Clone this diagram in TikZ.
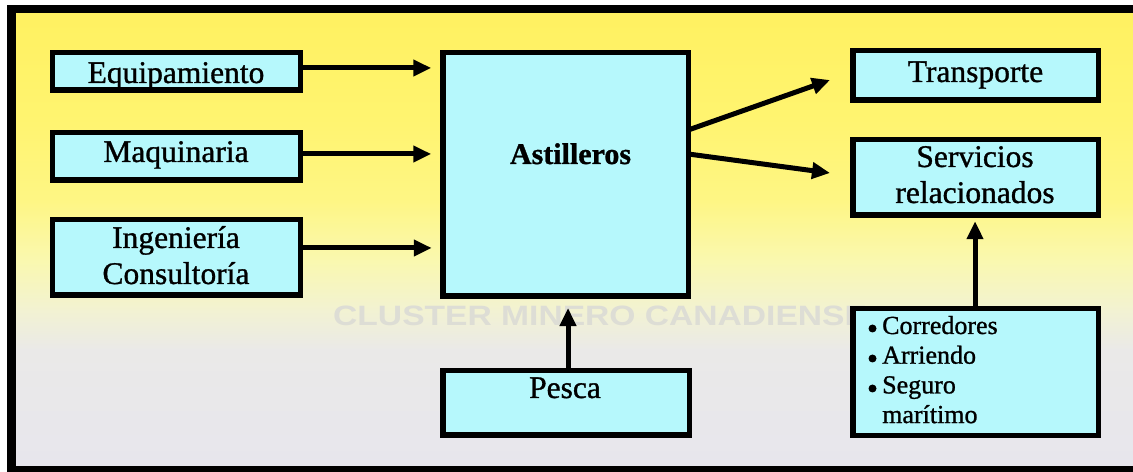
\documentclass[tikz,border=0pt]{standalone}
\usepackage{fontspec}
\setmainfont{Liberation Serif}[FakeBold=1]
\setsansfont{Liberation Sans}
\usetikzlibrary{arrows.meta}
\definecolor{boxfill}{RGB}{182,248,252}
\definecolor{bgA}{RGB}{231,230,237}
\definecolor{bgB}{RGB}{234,233,232}
\definecolor{bgC}{RGB}{242,242,210}
\definecolor{bgD}{RGB}{250,248,175}
\definecolor{bgE}{RGB}{254,246,132}
\definecolor{bgF}{RGB}{255,244,112}
\definecolor{bgG}{RGB}{255,241,96}
\definecolor{ghost}{RGB}{221,221,213}
\begin{document}
\begin{tikzpicture}[x=1bp,y=-1bp,
  box/.style={draw=black, line width=5.5bp, fill=boxfill, outer sep=0pt, inner sep=0pt},
  txt/.style={anchor=base, inner sep=0pt, font=\fontsize{31.5bp}{36bp}\selectfont},
  arr/.style={line width=5bp, -{Triangle[length=18bp,width=16bp]}},
  dot/.style={circle, fill=black, inner sep=0pt, minimum size=8bp},
  band/.style={draw=none}]
\useasboundingbox (0,0) rectangle (1133,472);
\fill[white] (-20,-20) rectangle (1160,500);
% background bands (top to bottom)
\shade[band, top color=bgG, bottom color=bgF] (11,8.5) rectangle (1160,120.5);
\shade[band, top color=bgF, bottom color=bgE] (11,120) rectangle (1160,200.5);
\shade[band, top color=bgE, bottom color=bgD] (11,200) rectangle (1160,260.5);
\shade[band, top color=bgD, bottom color=bgC] (11,260) rectangle (1160,310.5);
\shade[band, top color=bgC, bottom color=bgB] (11,310) rectangle (1160,350.5);
\shade[band, top color=bgB, bottom color=bgA] (11,350) rectangle (1160,471);
\draw[line width=8.5bp] (1160,9) -- (11.5,9) -- (11.5,470) -- (1160,470);

% faint bleed-through text
\node[anchor=base west, inner sep=0pt, text=ghost, font=\sffamily\bfseries\fontsize{28bp}{30bp}\selectfont] (ghosttext) at (333,326) {\scalebox{1.2}[1]{CLUSTER MINERO CANADIENSE}};

% boxes
\node[box, minimum width=247.5bp, minimum height=37.5bp] (equip) at (176.5,71.5) {};
\node[box, minimum width=247.5bp, minimum height=47.5bp] (maq) at (176.5,156.5) {};
\node[box, minimum width=247.5bp, minimum height=75.5bp] (ing) at (176.5,257.5) {};
\node[box, minimum width=245.5bp, minimum height=243.5bp] (ast) at (565.5,174.5) {};
\node[box, minimum width=245.5bp, minimum height=49.5bp] (trans) at (975.5,75.5) {};
\node[box, minimum width=245.5bp, minimum height=75.5bp] (serv) at (975.5,177.5) {};
\node[box, minimum width=246.5bp, minimum height=64.5bp] (pesca) at (566,403) {};
\node[box, minimum width=245.5bp, minimum height=126.5bp] (bul) at (975.5,372) {};

% texts
\node[txt] (equipT) at (176,83) {Equipamiento};
\node[txt] (maqT) at (176,162) {Maquinaria};
\node[txt] (ingT1) at (176,248) {Ingeniería};
\node[txt] (ingT2) at (176,284) {Consultoría};
\node[txt, font=\fontsize{30bp}{36bp}\selectfont\bfseries] (astT) at (570.5,164) {Astilleros};
\node[txt] (transT) at (975.5,82) {Transporte};
\node[txt] (servT1) at (975,167) {Servicios};
\node[txt] (servT2) at (975,203) {relacionados};
\node[txt] (pescaT) at (565,398) {Pesca};
\node[anchor=base west, inner sep=0pt, font=\fontsize{26bp}{29.7bp}\selectfont] (bulT) at (882,334)
  {\begin{tabular}[t]{@{}l@{}}Corredores\\ Arriendo\\ Seguro\\ marítimo\end{tabular}};
\node[dot] (b1) at (872.5,328.5) {};
\node[dot] (b2) at (872.5,358.5) {};
\node[dot] (b3) at (872.5,388.5) {};

% connectors
\draw[arr, shorten >=11.5bp] (equip.east |- 0,68) -- (ast.west |- 0,68);
\draw[arr, shorten >=11.5bp] (maq.east |- 0,154) -- (ast.west |- 0,154);
\draw[arr, shorten >=11bp] (ing.east |- 0,248) -- (ast.west |- 0,248);
\draw[arr] (ast.east |- 0,130) -- ([shift={(-22.75,4.5)}]trans.west);
\draw[arr] (ast.east |- 0,154) -- ([shift={(-22.75,-4.5)}]serv.west);
\draw[arr, shorten >=11.75bp] (pesca.north -| 568,0) -- (ast.south -| 568,0);
\draw[arr, shorten >=6bp] (bul.north -| 975,0) -- (serv.south -| 975,0);
\end{tikzpicture}
\end{document}
